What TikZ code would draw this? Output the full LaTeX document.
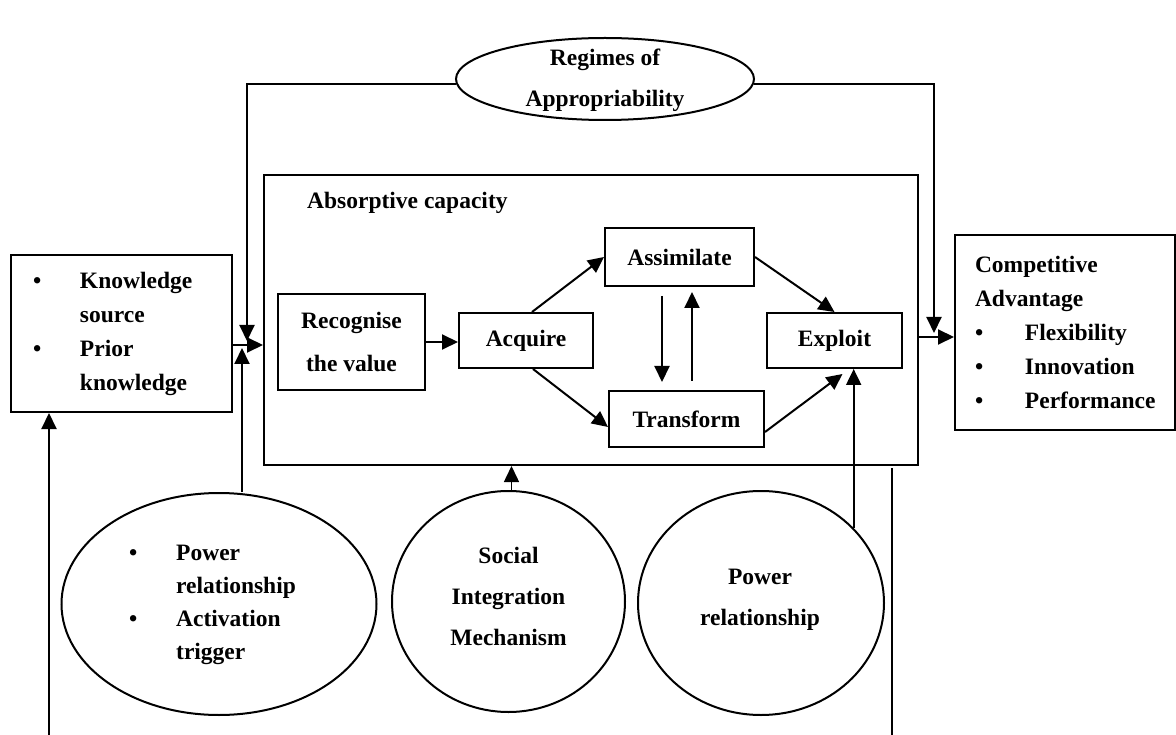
\documentclass[tikz,border=0pt]{standalone}
\usepackage{fontspec}
\setmainfont{Liberation Serif}
\usetikzlibrary{arrows.meta,shapes.geometric}
% bullet mark and matching indent for list lines
\newcommand\bulmark[1][47pt]{\makebox[#1][l]{\textbullet}}
\newcommand\bulskip[1][47pt]{\hspace*{#1}}
\begin{document}
\begin{tikzpicture}[x=1pt,y=-1pt,
  every node/.style={font=\bfseries\fontsize{23.5}{34}\selectfont, inner sep=0pt},
  wide/.style={font=\bfseries\fontsize{23.5}{41}\selectfont},
  tight/.style={font=\bfseries\fontsize{23.5}{33}\selectfont},
  box/.style={draw, line width=2pt, rectangle, fill=white},
  oval/.style={draw, line width=2pt, ellipse, fill=white},
  arr/.style={line width=2pt, -{Triangle[length=16pt,width=15pt]}},
  link/.style={line width=2pt}]
\useasboundingbox (0,0) rectangle (1176,735);

% absorptive capacity frame
\node[box, minimum width=654pt, minimum height=290pt] (abs) at (591,320) {};
\node[anchor=west] (abt) at (307,203) {Absorptive capacity};

% inner process boxes
\node[box, minimum width=147pt, minimum height=96pt, align=center,
      font=\bfseries\fontsize{23.5}{43}\selectfont] (rv) at (351.5,342) {Recognise\\the value};
\node[box, minimum width=134pt, minimum height=55pt] (acq) at (526,340.5) {Acquire};
\node[box, minimum width=149pt, minimum height=58pt] (asm) at (679.5,257) {Assimilate};
\node[box, minimum width=155pt, minimum height=56pt] (tr) at (686.5,419) {Transform};
\node[box, minimum width=135pt, minimum height=55pt] (ex) at (834.5,340.5) {Exploit};

% side boxes
\node[box, minimum width=221pt, minimum height=157pt, text width=177pt,
      inner xsep=22pt, align=left] (kb) at (121.5,333.5)
  {\bulmark Knowledge\\ \bulskip source\\ \bulmark Prior\\ \bulskip knowledge};
\node[box, minimum width=220pt, minimum height=195pt, text width=180pt,
      inner xsep=20pt, align=left] (ca) at (1065,332.5)
  {Competitive\\ Advantage\\ \bulmark[50pt]Flexibility\\ \bulmark[50pt]Innovation\\ \bulmark[50pt]Performance};

% ellipses and their texts
\node[oval, minimum width=298pt, minimum height=82pt] (reg) at (605,79) {};
\node[wide, align=center] (regt) at (605,80) {Regimes of\\Appropriability};

\node[oval, minimum width=315pt, minimum height=222pt] (pe1) at (219,604) {};
\node[tight, align=left, anchor=west] (pe1t) at (129,605)
  {\bulmark Power\\ \bulskip relationship\\ \bulmark Activation\\ \bulskip trigger};

\node[oval, minimum width=233pt, minimum height=221pt] (se) at (508.5,601.5) {};
\node[wide, align=center] (set) at (508.5,596) {Social\\Integration\\Mechanism};

\node[oval, minimum width=246pt, minimum height=224pt] (pe2) at (761,603) {};
\node[wide, align=center] (pe2t) at (760,600) {Power\\relationship};

% junction points
\coordinate (jl) at (247,341);
\coordinate (jy) at (0,345);
\coordinate (jp) at (242,348);
\coordinate (jr) at (0,337);
\coordinate (jq) at (934,333);
\coordinate (bl) at (49,735);
\coordinate (br0) at (892,735);
\coordinate (br1) at (892,468);

% outer connectors
\draw[arr] (reg.182) -| (jl);
\draw[arr] (kb.east |- jy) -- (abs.west |- jy);
\draw[arr] (jp |- pe1.north) -- (jp);
\draw[arr] (bl) -- (bl |- kb.south);
\draw[arr, line width=1.5pt] ([xshift=3pt]se.north) -- ([xshift=3pt]se.north |- abs.south);
\draw[arr] (pe2.39) -- (pe2.39 |- ex.south);
\draw[link] (br0) -- (br1);
\draw[arr] (abs.east |- jr) -- (ca.west |- jr);
\draw[arr] (reg.358) -| (jq);

% inner connectors
\draw[arr] (rv.east) -- (rv.east -| acq.west);
\draw[arr] ([xshift=6pt]acq.north) -- (asm.west);
\draw[arr] ([xshift=7pt]acq.south) -- ([yshift=-8pt]tr.west);
\draw[arr] (asm.east) -- (ex.north);
\draw[arr] ([yshift=-13pt]tr.east) -- ([xshift=8pt,yshift=-5pt]ex.south);
\draw[arr, shorten <=9pt, shorten >=8pt] ([xshift=-17.5pt]asm.south) -- ([xshift=-17.5pt]asm.south |- tr.north);
\draw[arr, shorten <=9pt, shorten >=5pt] ([xshift=12.5pt]asm.south |- tr.north) -- ([xshift=12.5pt]asm.south);
\end{tikzpicture}
\end{document}
